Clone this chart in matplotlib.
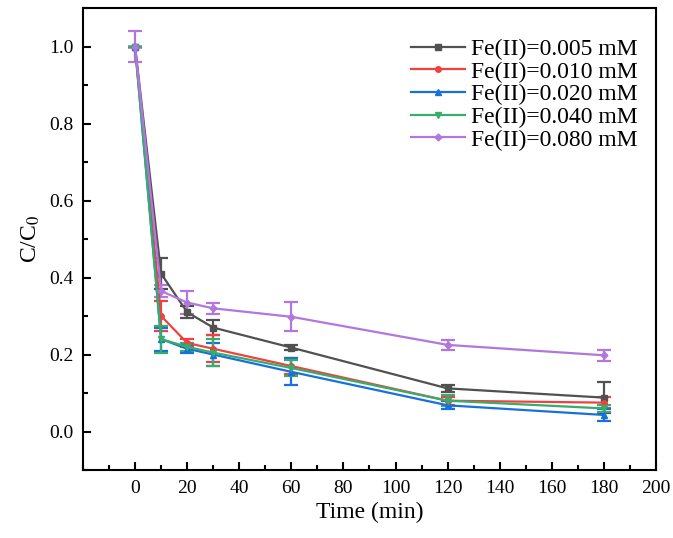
import matplotlib
matplotlib.use('Agg')
import matplotlib.pyplot as plt
from matplotlib.lines import Line2D
from matplotlib.ticker import MultipleLocator

plt.rcParams['font.family'] = ['Liberation Serif', 'DejaVu Serif']
plt.rcParams['mathtext.fontset'] = 'stix'

time = [0, 10, 20, 30, 60, 120, 180]
labels = ['Fe(II)=0.005 mM', 'Fe(II)=0.010 mM', 'Fe(II)=0.020 mM',
          'Fe(II)=0.040 mM', 'Fe(II)=0.080 mM']

c_005 = [1.0, 0.41, 0.31, 0.27, 0.218, 0.112, 0.088]
e_005 = [0.0, 0.04, 0.015, 0.02, 0.006, 0.01, 0.04]
c_010 = [1.0, 0.30, 0.23, 0.215, 0.17, 0.08, 0.075]
e_010 = [0.0, 0.04, 0.01, 0.035, 0.02, 0.01, 0.015]
c_020 = [1.0, 0.24, 0.215, 0.20, 0.155, 0.068, 0.043]
e_020 = [0.0, 0.03, 0.01, 0.03, 0.035, 0.01, 0.015]
c_040 = [1.0, 0.24, 0.22, 0.205, 0.165, 0.08, 0.06]
e_040 = [0.0, 0.035, 0.01, 0.035, 0.02, 0.015, 0.01]
c_080 = [1.0, 0.365, 0.335, 0.32, 0.298, 0.225, 0.198]
e_080 = [0.04, 0.015, 0.03, 0.015, 0.038, 0.012, 0.015]

series = [c_005, c_010, c_020, c_040, c_080]
errors = [e_005, e_010, e_020, e_040, e_080]
colors = ['#515151', '#F14040', '#1A6FDF', '#37AD6B', '#B177DE']
markers = ['s', 'o', '^', 'v', 'D']

fig = plt.figure(figsize=(6.73, 5.38), dpi=100)
ax = fig.add_axes([0.1233, 0.1264, 0.8514, 0.8586])

handles = []
for y, e, c, m, lab in zip(series, errors, colors, markers, labels):
    ms = 4 if m != 'D' else 3.5
    ax.errorbar(time, y, yerr=e, color=c, marker=m, markersize=ms,
                linewidth=1.6, elinewidth=1.6, capsize=5, capthick=1.6)
    handles.append(Line2D([], [], color=c, marker=m, markersize=ms, linewidth=1.6, label=lab))

ax.set_xlim(-20, 200)
ax.set_ylim(-0.1, 1.1)
ax.xaxis.set_minor_locator(MultipleLocator(10))
ax.yaxis.set_major_locator(MultipleLocator(0.2))
ax.yaxis.set_minor_locator(MultipleLocator(0.1))
ax.set_xticks(range(0, 201, 20))
ax.tick_params(which='both', direction='in', top=False, right=False, labelsize=14, width=1.5)
ax.tick_params(which='major', length=6, pad=7)
ax.tick_params(which='minor', length=3.5)
for s in ax.spines.values():
    s.set_linewidth(1.5)

ax.set_xlabel('Time (min)', fontsize=17, labelpad=4)
ax.set_ylabel('C/C$_0$', fontsize=17, labelpad=5)

ax.legend(handles=handles, loc='upper right', bbox_to_anchor=(0.985, 0.955),
          frameon=False, fontsize=17, handlelength=2.3,
          labelspacing=0.05, handletextpad=0.25, borderaxespad=0.0)

fig.savefig('out.png', dpi=100)
